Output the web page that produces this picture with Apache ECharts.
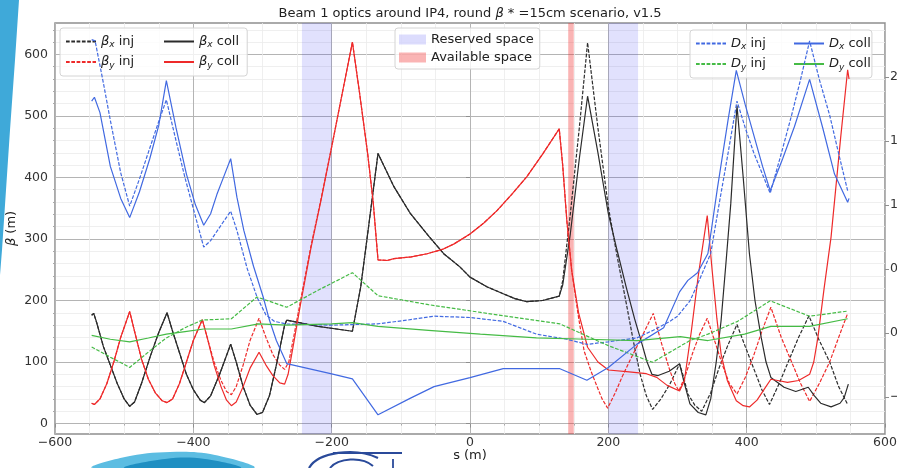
<!DOCTYPE html>
<html>
<head>
<meta charset="utf-8">
<style>
  html, body { margin: 0; padding: 0; background: #fff; overflow: hidden; }
  #optics-chart { width: 897px; height: 468px; }
</style>
<script src="https://cdn.jsdelivr.net/npm/echarts@6/dist/echarts.min.js"></script>
</head>
<body>
<div id="optics-chart"></div>
<script>
// beta functions (m), [s, beta]
var betaxInj = [[-547,176],[-544,179],[-540,165],[-530,125],[-520,95],[-510,65],[-500,40],[-492,28],[-485,35],[-475,65],[-462,110],[-450,148],[-438,180],[-430,150],[-420,115],[-410,80],[-400,55],[-390,38],[-384,34],[-375,45],[-362,80],[-346,129],[-338,100],[-328,60],[-318,30],[-308,15],[-300,18],[-290,45],[-280,95],[-268,160],[-265,168],[-220,158],[-170,150],[-158,222],[-148,308],[-133,439],[-110,385],[-86,341],[-60,305],[-38,276],[-15,255],[0,238],[25,222],[48,211],[65,203],[82,198],[105,200],[129,207],[134,232],[145,340],[158,480],[170,619],[185,480],[200,352],[213,270],[226,195],[236,135],[246,80],[255,45],[264,23],[276,40],[289,64],[303,97],[309,75],[315,48],[325,30],[335,20],[348,50],[360,90],[372,125],[386,161],[398,125],[410,90],[422,55],[433,31],[447,65],[460,100],[475,140],[490,175],[505,135],[520,100],[533,60],[546,31]];
var betayInj = [[-547,33],[-543,31],[-535,40],[-525,65],[-515,100],[-505,140],[-492,182],[-485,150],[-475,105],[-465,72],[-455,50],[-445,37],[-438,34],[-430,40],[-420,65],[-410,100],[-400,135],[-387,169],[-380,140],[-370,100],[-360,70],[-352,52],[-345,47],[-338,60],[-328,95],[-318,135],[-305,171],[-295,140],[-285,112],[-275,95],[-268,88],[-262,100],[-255,140],[-245,200],[-230,288],[-215,367],[-201,444],[-185,535],[-170,620],[-160,540],[-148,439],[-140,360],[-133,266],[-120,265],[-110,268],[-85,271],[-62,276],[-40,283],[-23,292],[0,308],[20,326],[39,346],[60,372],[82,401],[105,438],[129,479],[134,420],[140,330],[147,249],[157,172],[165,118],[175,85],[183,62],[191,40],[199,25],[210,50],[220,76],[231,102],[248,140],[265,179],[277,130],[289,86],[296,65],[302,53],[312,80],[322,115],[332,145],[343,171],[355,130],[365,95],[375,65],[386,48],[398,75],[410,110],[422,150],[435,189],[450,140],[465,100],[478,65],[491,36],[505,65],[520,100],[533,140],[546,179]];
var betaxColl = [[-547,176],[-544,179],[-540,165],[-530,125],[-520,95],[-510,65],[-500,40],[-492,28],[-485,35],[-475,65],[-462,110],[-450,148],[-438,180],[-430,150],[-420,115],[-410,80],[-400,55],[-390,38],[-384,34],[-375,45],[-362,80],[-346,129],[-338,100],[-328,60],[-318,30],[-308,15],[-300,18],[-290,45],[-280,95],[-268,160],[-265,168],[-220,158],[-170,150],[-158,222],[-148,308],[-133,439],[-110,385],[-86,341],[-60,305],[-38,276],[-15,255],[0,238],[25,222],[48,211],[65,203],[82,198],[105,200],[129,207],[134,225],[145,308],[158,430],[170,532],[185,440],[200,341],[213,280],[226,221],[238,170],[248,132],[256,100],[263,80],[272,78],[288,85],[303,97],[310,65],[318,32],[330,18],[341,14],[348,40],[356,100],[363,167],[370,260],[377,357],[386,517],[395,400],[404,276],[412,200],[421,140],[428,100],[435,75],[454,59],[471,52],[489,59],[498,45],[507,33],[522,27],[535,33],[541,42],[547,64]];
var betayColl = [[-547,33],[-543,31],[-535,40],[-525,65],[-515,100],[-505,140],[-492,182],[-485,150],[-475,105],[-465,72],[-455,50],[-445,37],[-438,34],[-430,40],[-420,65],[-410,100],[-400,135],[-387,169],[-380,140],[-370,95],[-360,60],[-352,38],[-345,29],[-338,35],[-328,60],[-318,90],[-305,116],[-295,95],[-285,78],[-275,66],[-268,64],[-263,80],[-255,130],[-245,194],[-230,285],[-215,365],[-201,444],[-185,535],[-170,620],[-160,540],[-148,439],[-140,360],[-133,266],[-120,265],[-110,268],[-85,271],[-62,276],[-40,283],[-23,292],[0,308],[20,326],[39,346],[60,372],[82,401],[105,438],[129,479],[134,420],[140,330],[147,249],[157,180],[170,124],[185,100],[200,87],[230,84],[255,81],[270,75],[285,62],[303,53],[310,70],[320,150],[330,240],[343,338],[350,250],[357,170],[363,113],[372,70],[385,37],[395,29],[404,27],[415,38],[425,55],[435,72],[445,70],[459,67],[475,70],[491,80],[497,100],[503,140],[512,220],[522,303],[536,466],[546,575],[548,560]];

// dispersion (m), [s, D]
var dxInj = [[-547,2.29],[-542,2.28],[-530,1.95],[-520,1.66],[-505,1.25],[-492,0.99],[-478,1.20],[-465,1.41],[-452,1.62],[-439,1.82],[-425,1.50],[-412,1.21],[-398,0.93],[-385,0.67],[-375,0.72],[-360,0.84],[-346,0.95],[-337,0.80],[-322,0.50],[-308,0.28],[-295,0.14],[-283,0.09],[-265,0.07],[-200,0.06],[-134,0.07],[-90,0.10],[-52,0.13],[0,0.12],[48,0.09],[96,-0.01],[140,-0.05],[169,-0.09],[200,-0.07],[241,-0.04],[265,0.02],[289,0.09],[300,0.13],[318,0.25],[329,0.38],[348,0.62],[360,1.00],[373,1.40],[386,1.81],[398,1.60],[410,1.41],[422,1.25],[434,1.09],[450,1.40],[465,1.70],[478,1.98],[491,2.28],[505,1.98],[520,1.70],[533,1.40],[546,1.11]];
var dyInj = [[-547,-0.11],[-520,-0.19],[-492,-0.27],[-465,-0.15],[-439,-0.04],[-412,0.04],[-387,0.10],[-345,0.11],[-308,0.28],[-265,0.20],[-217,0.34],[-170,0.47],[-133,0.29],[-60,0.22],[15,0.16],[130,0.07],[200,-0.10],[264,-0.23],[318,-0.06],[344,-0.01],[387,0.09],[434,0.25],[491,0.13],[546,0.17]];
var dxColl = [[-547,1.81],[-543,1.84],[-535,1.72],[-520,1.30],[-505,1.05],[-492,0.90],[-478,1.10],[-463,1.36],[-450,1.62],[-439,1.97],[-425,1.60],[-410,1.24],[-397,1.00],[-385,0.84],[-375,0.93],[-366,1.08],[-356,1.22],[-346,1.36],[-337,1.06],[-327,0.80],[-313,0.52],[-299,0.28],[-290,0.10],[-280,-0.06],[-265,-0.24],[-200,-0.32],[-170,-0.36],[-133,-0.64],[-86,-0.51],[-52,-0.42],[0,-0.35],[48,-0.28],[130,-0.28],[169,-0.37],[200,-0.27],[241,-0.09],[280,0.04],[303,0.32],[315,0.41],[329,0.47],[344,0.62],[358,1.14],[373,1.66],[385,2.05],[398,1.78],[411,1.53],[423,1.30],[434,1.11],[452,1.36],[469,1.61],[491,1.98],[510,1.60],[527,1.24],[546,1.02],[548,1.05]];
var dyColl = [[-547,-0.02],[-520,-0.05],[-492,-0.07],[-465,-0.04],[-439,-0.01],[-412,0.01],[-385,0.03],[-345,0.03],[-306,0.07],[-265,0.06],[-200,0.07],[-170,0.08],[-133,0.05],[-60,0.02],[15,-0.01],[96,-0.04],[169,-0.05],[241,-0.06],[304,-0.03],[344,-0.06],[397,-0.01],[435,0.05],[491,0.05],[546,0.11]];

// shaded regions along s (m)
var reservedSpace = [[-243,-200],[200,243]];
var availableSpace = [[142,150]];

// tick values
var betaTicks = [0,100,200,300,400,500,600];
var betaMinorTicks = [20,40,60,80,120,140,160,180,220,240,260,280,320,340,360,380,420,440,460,480,520,540,560,580,620,640];
var dispTicks = [-0.5,0,0.5,1,1.5,2];

var FONT = 'DejaVu Sans';
var colBlack = '#2b2b2b', colRed = '#ee2a2a', colBlue = '#4169e1', colGreen = '#45bb45';
var gridMajor = '#b4b4b4', gridMinor = '#ebebeb', spine = '#8f8f8f';
var logoNavy = '#2a4a9a';

function minus(v) {
  return v < 0 ? '\u2212' + String(-v) : String(v);
}

function lineSeries(name, data, color, dashed, yIdx, z) {
  return {
    name: name,
    type: 'line',
    data: data,
    yAxisIndex: yIdx,
    symbol: 'none',
    z: z,
    itemStyle: { color: color },
    lineStyle: { color: color, width: 1.2, type: dashed ? [3.7, 1.6] : 'solid' },
    animation: false
  };
}

var legendRich = {
  m: { fontFamily: FONT, fontSize: 13, fontStyle: 'italic', color: '#222' },
  sub: { fontFamily: FONT, fontSize: 9, fontStyle: 'italic', color: '#222', padding: [7, 0, 0, 0] },
  t: { fontFamily: FONT, fontSize: 13, color: '#222' }
};
function legendLabel(name) {
  return '{m|' + name[0] + '}{sub|' + name[1] + '}{t|' + name.slice(2) + '}';
}

// one column of a two-column legend; the first column carries the frame
function legendColumn(pos, names, framed) {
  var l = {
    top: pos.top,
    orient: 'vertical',
    itemGap: 6,
    itemWidth: 30,
    itemHeight: 10,
    padding: framed ? [7, 6 + pos.extra, 6, 5] : [7, 0, 6, 0],
    backgroundColor: framed ? 'rgba(255,255,255,0.8)' : 'transparent',
    borderColor: framed ? '#d4d4d4' : 'transparent',
    borderWidth: framed ? 1 : 0,
    borderRadius: 3,
    itemStyle: { opacity: 0 },
    formatter: legendLabel,
    textStyle: { fontFamily: FONT, fontSize: 13, color: '#222', rich: legendRich },
    data: names
  };
  l.left = pos.left;
  return l;
}

var chart = echarts.init(document.getElementById('optics-chart'), null, { renderer: 'canvas' });

var option = {
  backgroundColor: '#fff',
  animation: false,
  title: {
    text: 'Beam 1 optics around IP4, round {m|\u03b2} * =15cm scenario, v1.5',
    left: 470,
    textAlign: 'center',
    top: 7,
    padding: 0,
    textStyle: {
      fontFamily: FONT, fontSize: 13, fontWeight: 'normal', color: '#222',
      rich: { m: { fontFamily: FONT, fontSize: 13, fontStyle: 'italic', color: '#222' } }
    }
  },
  grid: {
    left: 55, right: 12, top: 23, bottom: 34,
    containLabel: false,
    outerBoundsMode: 'none',
    show: true, borderColor: spine, borderWidth: 1.5, backgroundColor: 'transparent'
  },
  legend: [
    legendColumn({ left: 60, top: 28, extra: 107 }, ['\u03b2x inj', '\u03b2y inj'], true),
    legendColumn({ left: 163, top: 28 }, ['\u03b2x coll', '\u03b2y coll'], false),
    {
      left: 395, top: 28,
      orient: 'vertical',
      itemGap: 5,
      itemWidth: 27,
      itemHeight: 10,
      padding: [5, 6, 5, 4],
      backgroundColor: 'rgba(255,255,255,0.8)',
      borderColor: '#d4d4d4',
      borderWidth: 1,
      borderRadius: 3,
      textStyle: { fontFamily: FONT, fontSize: 13, color: '#222' },
      data: [{ name: 'Reserved space', icon: 'rect' }, { name: 'Available space', icon: 'rect' }]
    },
    legendColumn({ left: 690, top: 30, extra: 100 }, ['Dx inj', 'Dy inj'], true),
    legendColumn({ left: 793, top: 30 }, ['Dx coll', 'Dy coll'], false)
  ],
  xAxis: {
    type: 'value',
    min: -600, max: 600, interval: 200,
    name: 's (m)',
    nameLocation: 'middle',
    nameGap: 15,
    nameMoveOverlap: false,
    nameTextStyle: { fontFamily: FONT, fontSize: 13, color: '#222' },
    axisLine: { show: false },
    axisTick: { show: true, length: 4, lineStyle: { color: spine } },
    minorTick: { show: true, splitNumber: 4, length: 2, lineStyle: { color: '#a8a8a8' } },
    splitLine: { show: true, lineStyle: { color: gridMajor, width: 1 } },
    minorSplitLine: { show: true, lineStyle: { color: gridMinor, width: 0.8 } },
    axisLabel: { fontFamily: FONT, fontSize: 12.5, color: '#333', margin: 2, formatter: minus }
  },
  yAxis: [
    {
      type: 'value',
      position: 'left',
      min: -17, max: 651,
      name: '{m|\u03b2} (m)',
      nameLocation: 'middle',
      nameGap: 37,
      nameMoveOverlap: false,
      nameTextStyle: {
        fontFamily: FONT, fontSize: 13, color: '#222',
        rich: { m: { fontFamily: FONT, fontSize: 13, fontStyle: 'italic', color: '#222' } }
      },
      axisLine: { show: false },
      axisTick: { show: true, length: 4, customValues: betaTicks, lineStyle: { color: spine } },
      axisLabel: { fontFamily: FONT, fontSize: 12.5, color: '#333', margin: 7, customValues: betaTicks, formatter: minus },
      splitLine: { show: true, lineStyle: { color: gridMajor, width: 1 } }
    },
    {
      type: 'value',
      position: 'left',
      min: -17, max: 651,
      axisLine: { show: false },
      axisTick: { show: true, length: 2, customValues: betaMinorTicks, lineStyle: { color: '#a8a8a8' } },
      axisLabel: { show: false },
      splitLine: { show: true, lineStyle: { color: gridMinor, width: 0.8 } }
    },
    {
      type: 'value',
      position: 'right',
      min: -0.79, max: 2.42,
      axisLine: { show: false },
      axisTick: { show: true, length: 4, customValues: dispTicks, lineStyle: { color: spine } },
      axisLabel: {
        fontFamily: FONT, fontSize: 12.5, color: '#333', margin: 5, customValues: dispTicks,
        formatter: function (v) { return (v < 0 ? '\u2212' : '') + Math.abs(v).toFixed(1); }
      },
      splitLine: { show: false }
    }
  ],
  series: [
    {
      name: 'Reserved space',
      type: 'line',
      data: [],
      z: 1,
      itemStyle: { color: 'rgba(40,40,240,0.16)' },
      lineStyle: { color: 'rgba(40,40,240,0.16)' },
      markArea: {
        silent: true,
        itemStyle: { color: 'rgba(40,40,240,0.14)' },
        data: reservedSpace.map(function (r) { return [{ xAxis: r[0] }, { xAxis: r[1] }]; })
      }
    },
    {
      name: 'Available space',
      type: 'line',
      data: [],
      z: 1,
      itemStyle: { color: 'rgba(240,40,40,0.35)' },
      lineStyle: { color: 'rgba(240,40,40,0.35)' },
      markArea: {
        silent: true,
        itemStyle: { color: 'rgba(240,40,40,0.35)' },
        data: availableSpace.map(function (r) { return [{ xAxis: r[0] }, { xAxis: r[1] }]; })
      }
    },
    lineSeries('\u03b2x inj', betaxInj, colBlack, true, 0, 3),
    lineSeries('\u03b2y inj', betayInj, colRed, true, 0, 3),
    lineSeries('\u03b2x coll', betaxColl, colBlack, false, 0, 4),
    lineSeries('\u03b2y coll', betayColl, colRed, false, 0, 4),
    lineSeries('Dx inj', dxInj, colBlue, true, 2, 5),
    lineSeries('Dy inj', dyInj, colGreen, true, 2, 5),
    lineSeries('Dx coll', dxColl, colBlue, false, 2, 6),
    lineSeries('Dy coll', dyColl, colGreen, false, 2, 6)
  ],
  graphic: [
    {
      type: 'polygon', silent: true,
      shape: { points: [[0, 0], [19, 0], [15, 60], [10, 130], [6, 190], [2, 250], [0, 275]] },
      style: { fill: '#3fa9d9' }
    },
    {
      type: 'polygon', silent: true,
      shape: { points: [[93, 468], [125, 457], [170, 452], [215, 455], [253, 468]], smooth: 0.4 },
      style: { fill: '#5cbde2' }
    },
    {
      type: 'polygon', silent: true,
      shape: { points: [[125, 468], [165, 459], [205, 459], [240, 468]], smooth: 0.4 },
      style: { fill: '#1f8fc2' }
    },
    {
      type: 'bezierCurve', silent: true,
      shape: { x1: 309, y1: 468, cpx1: 318, cpy1: 452, cpx2: 355, cpy2: 447, x2: 378, y2: 458 },
      style: { stroke: logoNavy, fill: null, lineWidth: 2.2 }
    },
    {
      type: 'bezierCurve', silent: true,
      shape: { x1: 330, y1: 468, cpx1: 338, cpy1: 458, cpx2: 362, cpy2: 456, x2: 373, y2: 466 },
      style: { stroke: logoNavy, fill: null, lineWidth: 2 }
    },
    {
      type: 'line', silent: true,
      shape: { x1: 333, y1: 453, x2: 402, y2: 453 },
      style: { stroke: logoNavy, lineWidth: 1.8 }
    },
    {
      type: 'line', silent: true,
      shape: { x1: 393, y1: 459, x2: 393, y2: 468 },
      style: { stroke: logoNavy, lineWidth: 1.8 }
    }
  ]
};

chart.setOption(option);
</script>
</body>
</html>
